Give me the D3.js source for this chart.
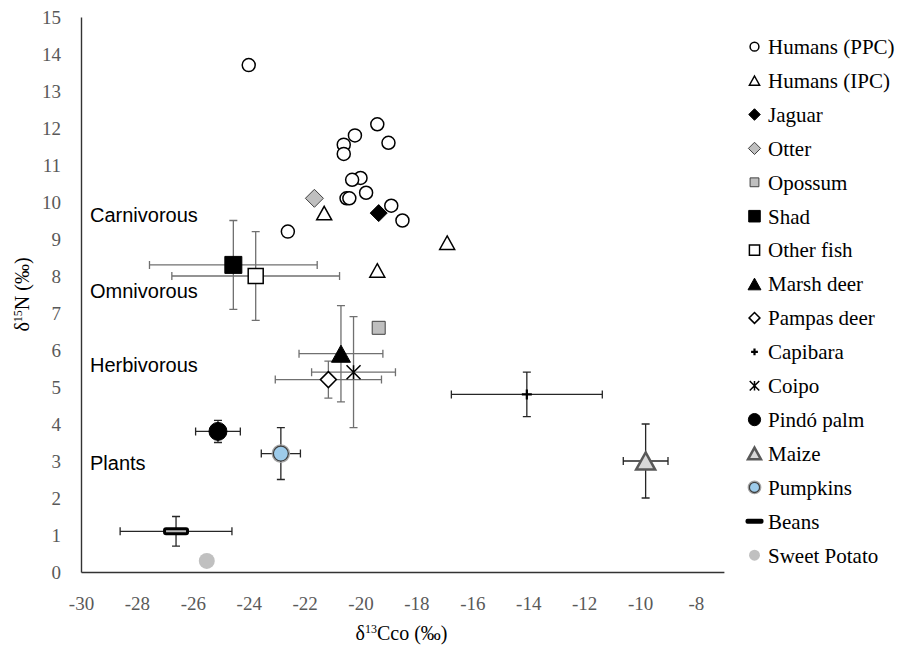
<!DOCTYPE html>
<html>
<head>
<meta charset="utf-8">
<script src="https://cdn.jsdelivr.net/npm/d3@7"></script>
<style>
  body { margin: 0; background: #fff; }
  svg { display: block; }
</style>
</head>
<body>
<svg id="chart" width="901" height="648"></svg>
<script>
// series names, in legend order
var seriesNames = ['Humans (PPC)', 'Humans (IPC)', 'Jaguar', 'Otter', 'Opossum', 'Shad', 'Other fish',
  'Marsh deer', 'Pampas deer', 'Capibara', 'Coipo', 'Pindó palm', 'Maize', 'Pumpkins', 'Beans', 'Sweet Potato'];

// individual humans
var humansPPC_x = [-24.0, -19.4, -20.2, -19.0, -20.6, -20.6, -20.0, -20.3, -19.8, -20.5, -20.4, -18.9, -18.5, -22.6];
var humansPPC_y = [13.7, 12.1, 11.8, 11.6, 11.55, 11.3, 10.65, 10.6, 10.25, 10.1, 10.1, 9.9, 9.5, 9.2];
var humansIPC_x = [-21.3, -16.9, -19.4];
var humansIPC_y = [9.7, 8.9, 8.15];

// single animals
var jaguar = [-19.35, 9.7];
var otter = [-21.65, 10.1];
var opossum = [-19.35, 6.6];

// group means and standard deviations
var groupNames = ['Shad', 'Other fish', 'Marsh deer', 'Pampas deer', 'Capibara', 'Coipo', 'Pindó palm', 'Maize', 'Pumpkins', 'Beans', 'Sweet Potato'];
var groupX =   [-24.55, -23.75, -20.7, -21.15, -14.05, -20.25, -25.1, -9.8, -22.85, -26.6, -25.5];
var groupY =   [8.3, 8.0, 5.9, 5.2, 4.8, 5.4, 3.8, 3.0, 3.2, 1.1, 0.3];
var groupSdX = [3.0, 3.0, 1.5, 1.9, 2.7, 1.5, 0.8, 0.8, 0.7, 2.0, 0];
var groupSdY = [1.2, 1.2, 1.3, 0.5, 0.6, 1.5, 0.3, 1.0, 0.7, 0.4, 0];

var xTicks = d3.range(-30, -7, 2);
var yTicks = d3.range(0, 16, 1);

var categoryLabels = ['Carnivorous', 'Omnivorous', 'Herbivorous', 'Plants'];
var categoryY = [9.65, 7.6, 5.6, 2.95];

var serif = '"Liberation Serif", "DejaVu Serif", serif';
var sans = '"Liberation Sans", Arial, Helvetica, sans-serif';

// marker styles per series
var styles = {
  'Humans (PPC)': { shape: 'circle', size: 13, fill: '#fff', stroke: '#000', sw: 1.5 },
  'Humans (IPC)': { shape: 'triangle', size: 15, fill: '#fff', stroke: '#000', sw: 1.5 },
  'Jaguar': { shape: 'diamond', size: 17, fill: '#000', stroke: '#000', sw: 1 },
  'Otter': { shape: 'diamond', size: 18, fill: '#bfbfbf', stroke: '#404040', sw: 1 },
  'Opossum': { shape: 'square', size: 13, fill: '#bfbfbf', stroke: '#404040', sw: 1 },
  'Shad': { shape: 'square', size: 17, fill: '#000', stroke: '#000', sw: 1 },
  'Other fish': { shape: 'square', size: 15, fill: '#fff', stroke: '#000', sw: 1.5 },
  'Marsh deer': { shape: 'triangle', size: 19, fill: '#000', stroke: '#000', sw: 1 },
  'Pampas deer': { shape: 'diamond', size: 16, fill: '#fff', stroke: '#000', sw: 1.5 },
  'Capibara': { shape: 'plus', size: 10, fill: 'none', stroke: '#000', sw: 2.2 },
  'Coipo': { shape: 'star', size: 14, fill: 'none', stroke: '#000', sw: 1.5 },
  'Pindó palm': { shape: 'circle', size: 18, fill: '#000', stroke: '#000', sw: 1 },
  'Maize': { shape: 'triangle', size: 19, fill: '#d9d9d9', stroke: '#595959', sw: 2.5 },
  'Pumpkins': { shape: 'ringcircle', size: 15, fill: '#9dcbea', stroke: '#404040', sw: 1.3 },
  'Beans': { shape: 'dash', size: 23, fill: '#bdbdbd', stroke: '#000', sw: 3 },
  'Sweet Potato': { shape: 'circle', size: 16, fill: '#c0c0c0', stroke: 'none', sw: 0 }
};
var greyBars = ['Shad', 'Other fish', 'Marsh deer', 'Pampas deer', 'Coipo'];

var svg = d3.select('#chart');
var margin = { top: 17, left: 81, bottom: 572, right: 723.9 };

var x = d3.scaleLinear().domain([-30, -7]).range([margin.left, margin.right]);
var y = d3.scaleLinear().domain([0, 15]).range([margin.bottom, margin.top]);

// axes
var xAxis_g = svg.append('g')
  .attr('transform', 'translate(0,' + margin.bottom + ')')
  .call(d3.axisBottom(x).tickValues(xTicks).tickSize(0).tickSizeOuter(0).tickFormat(d3.format('d')));
xAxis_g.selectAll('.tick text').attr('y', 31).attr('dy', '0.35em')
  .text(function(d) { return String(d); });

var yAxis_g = svg.append('g')
  .attr('transform', 'translate(' + margin.left + ',0)')
  .call(d3.axisLeft(y).tickValues(yTicks).tickSize(0).tickSizeOuter(0).tickPadding(20));

svg.selectAll('g').attr('font-family', null);
svg.selectAll('.tick text')
  .attr('font-family', serif).attr('font-size', 19).attr('fill', '#595959');
svg.selectAll('.domain').attr('stroke', '#333').attr('stroke-width', 1.4);

// axis titles
var xt = svg.append('text')
  .attr('x', (margin.left + 722) / 2).attr('y', 640).attr('text-anchor', 'middle')
  .attr('font-family', serif).attr('font-size', 20);
xt.append('tspan').text('δ');
xt.append('tspan').attr('font-size', 12).attr('dy', -7).text('13');
xt.append('tspan').attr('dy', 7).text('Cco (‰)');

var yt = svg.append('text')
  .attr('transform', 'translate(29,' + (margin.top + margin.bottom) / 2 + ') rotate(-90)')
  .attr('text-anchor', 'middle')
  .attr('font-family', serif).attr('font-size', 20);
yt.append('tspan').text('δ');
yt.append('tspan').attr('font-size', 12).attr('dy', -7).text('15');
yt.append('tspan').attr('dy', 7).text('N (‰)');

// category labels
svg.selectAll('.cat-label').data(categoryLabels).enter().append('text')
  .attr('class', 'cat-label')
  .attr('x', 90)
  .attr('y', function(d, i) { return y(categoryY[i]); })
  .attr('dy', '0.35em')
  .attr('font-family', sans).attr('font-size', 20)
  .text(function(d) { return d; });

function shapePath(shape, s) {
  var h = s / 2;
  if (shape === 'triangle') {
    var th = s * 0.9;
    return 'M0,' + (-th / 2) + 'L' + h + ',' + (th / 2) + 'L' + (-h) + ',' + (th / 2) + 'Z';
  }
  if (shape === 'diamond') return 'M0,' + (-h) + 'L' + h + ',0L0,' + h + 'L' + (-h) + ',0Z';
  if (shape === 'square') return 'M' + (-h) + ',' + (-h) + 'H' + h + 'V' + h + 'H' + (-h) + 'Z';
  if (shape === 'plus') return 'M' + (-h) + ',0H' + h + 'M0,' + (-h) + 'V' + h;
  if (shape === 'star') return 'M' + (-h) + ',' + (-h) + 'L' + h + ',' + h + 'M' + h + ',' + (-h) + 'L' + (-h) + ',' + h + 'M0,' + (-h) + 'V' + h;
  return null;
}

function drawMarker(g, name, k) {
  var st = styles[name];
  var s = st.size * k;
  if (st.shape === 'circle') {
    g.append('circle').attr('r', s / 2).attr('fill', st.fill).attr('stroke', st.stroke).attr('stroke-width', st.sw);
  } else if (st.shape === 'ringcircle') {
    g.append('circle').attr('r', s / 2 + 1.2).attr('fill', 'none').attr('stroke', '#a6a6a6').attr('stroke-width', 1.2);
    g.append('circle').attr('r', s / 2).attr('fill', st.fill).attr('stroke', st.stroke).attr('stroke-width', st.sw);
  } else if (st.shape === 'dash') {
    if (k < 1) {
      g.append('rect').attr('x', -9).attr('y', -2.5).attr('width', 18).attr('height', 5).attr('rx', 2)
        .attr('fill', '#000');
    } else {
      g.append('rect').attr('x', -s / 2).attr('y', -2.5).attr('width', s).attr('height', 5).attr('rx', 1.5)
        .attr('fill', st.fill).attr('stroke', st.stroke).attr('stroke-width', st.sw);
    }
  } else {
    g.append('path').attr('d', shapePath(st.shape, s))
      .attr('fill', st.fill).attr('stroke', st.stroke).attr('stroke-width', st.sw)
      .attr('stroke-linejoin', 'miter');
  }
}

// error bars
var cap = 4;
var bars = svg.append('g');
groupNames.forEach(function(name, i) {
  if (groupSdX[i] === 0 && groupSdY[i] === 0) return;
  var col = greyBars.indexOf(name) >= 0 ? '#707070' : '#262626';
  var cx = x(groupX[i]), cy = y(groupY[i]);
  var x0 = x(groupX[i] - groupSdX[i]), x1 = x(groupX[i] + groupSdX[i]);
  var y0 = y(groupY[i] - groupSdY[i]), y1 = y(groupY[i] + groupSdY[i]);
  var p = 'M' + x0 + ',' + cy + 'H' + x1 +
    'M' + x0 + ',' + (cy - cap) + 'V' + (cy + cap) +
    'M' + x1 + ',' + (cy - cap) + 'V' + (cy + cap) +
    'M' + cx + ',' + y0 + 'V' + y1 +
    'M' + (cx - cap) + ',' + y0 + 'H' + (cx + cap) +
    'M' + (cx - cap) + ',' + y1 + 'H' + (cx + cap);
  bars.append('path').attr('d', p).attr('fill', 'none').attr('stroke', col).attr('stroke-width', 1.3);
});

// points
var pts = svg.append('g');
function addPoint(name, vx, vy) {
  var g = pts.append('g').attr('transform', 'translate(' + x(vx) + ',' + y(vy) + ')');
  drawMarker(g, name, 1);
}
humansPPC_x.forEach(function(v, i) { addPoint('Humans (PPC)', v, humansPPC_y[i]); });
humansIPC_x.forEach(function(v, i) { addPoint('Humans (IPC)', v, humansIPC_y[i]); });
addPoint('Jaguar', jaguar[0], jaguar[1]);
addPoint('Otter', otter[0], otter[1]);
addPoint('Opossum', opossum[0], opossum[1]);
groupNames.forEach(function(name, i) { addPoint(name, groupX[i], groupY[i]); });

// legend
var legend = svg.append('g');
seriesNames.forEach(function(name, i) {
  var ly = 46.7 + i * 33.9;
  var g = legend.append('g').attr('transform', 'translate(754.5,' + ly + ')');
  drawMarker(g, name, 0.68);
  legend.append('text').attr('x', 768).attr('y', ly).attr('dy', '0.35em')
    .attr('font-family', serif).attr('font-size', 21)
    .text(name);
});
</script>
</body>
</html>
